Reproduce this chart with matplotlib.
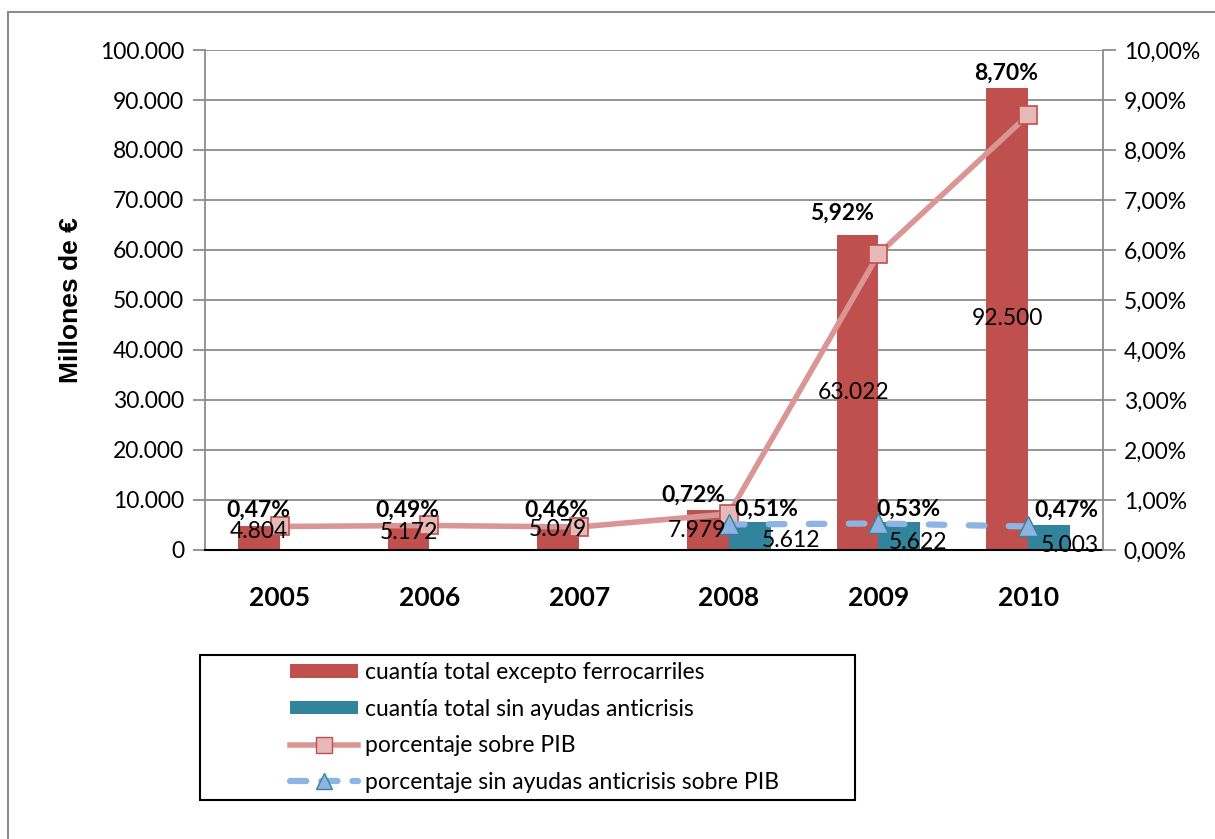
import matplotlib.pyplot as plt
import numpy as np
from matplotlib.patches import Rectangle
from matplotlib.lines import Line2D
from matplotlib.patches import Patch

plt.rcParams['font.family'] = ['Lato', 'DejaVu Sans']

# Datos
years = ['2005', '2006', '2007', '2008', '2009', '2010']
total_excepto = [4804, 5172, 5079, 7979, 63022, 92500]
total_sin_anticrisis = [0, 0, 0, 5612, 5622, 5003]
pct_pib = [0.47, 0.49, 0.46, 0.72, 5.92, 8.70]
pct_sin_anticrisis = [np.nan, np.nan, np.nan, 0.51, 0.53, 0.47]

c_red = '#C0504D'
c_teal = '#31849B'
c_line_red = '#DA9694'
c_line_blue = '#8DB4E2'

x = np.arange(len(years))
w = 0.28

fig = plt.figure(figsize=(12.15, 8.39), dpi=100)
ax = fig.add_axes([0.1687, 0.3445, 0.9078 - 0.1687, 0.9404 - 0.3445])

ax.set_axisbelow(True)
ax.yaxis.grid(True, color='#8c8c8c', linewidth=1.3)
b1 = ax.bar(x - w / 2, total_excepto, w, color=c_red, zorder=2)
b2 = ax.bar(x + w / 2, total_sin_anticrisis, w, color=c_teal, zorder=2)

ax.set_xlim(-0.5, len(years) - 0.5)
ax.set_ylim(0, 100000)
ax.set_yticks(np.arange(0, 100001, 10000))
ax.set_yticklabels([f'{v:,}'.replace(',', '.') for v in range(0, 100001, 10000)], fontsize=16.5)
ax.set_xticks(x)
ax.set_xticklabels(years, fontsize=19, fontweight='bold')
ax.tick_params(axis='x', length=0, pad=26)
ax.tick_params(axis='y', length=9, color='#8c8c8c', width=1.3, pad=6)
for s in ['top', 'right']:
    ax.spines[s].set_visible(False)
ax.spines['left'].set_color('#8c8c8c')
ax.spines['left'].set_linewidth(1.3)
ax.spines['bottom'].set_color('black')
ax.spines['bottom'].set_linewidth(1.5)
ax.set_ylabel('Millones de €', fontsize=19, fontweight='bold',
              family='Liberation Sans', labelpad=12)

ax2 = ax.twinx()
ax2.set_ylim(0, 10)
ax2.set_yticks(np.arange(0, 10.01, 1))
ax2.set_yticklabels([f'{v:.2f}%'.replace('.', ',') for v in range(0, 11)], fontsize=16.5)
ax2.tick_params(axis='y', length=9, color='#8c8c8c', width=1.3, pad=6)
for s in ['top', 'left', 'bottom']:
    ax2.spines[s].set_visible(False)
ax2.spines['right'].set_color('#8c8c8c')
ax2.spines['right'].set_linewidth(1.3)

blue_dash = (0, (2.5, 3.9))
ax2.plot(x, pct_pib, color=c_line_red, lw=4, marker='s', markersize=13,
         markerfacecolor='#E6B9B8', markeredgecolor=c_red, markeredgewidth=1.2, zorder=3)
ax2.plot(x, pct_sin_anticrisis, color=c_line_blue, lw=4.5, linestyle=blue_dash,
         dash_capstyle='round', marker='^', markersize=14,
         markerfacecolor=c_line_blue, markeredgecolor=c_teal, markeredgewidth=1, zorder=3)

# Etiquetas de valores (sobre el eje secundario para quedar encima de las líneas)
def fmt_num(v):
    return f'{v:,}'.replace(',', '.')

red_off = [(0, 6), (0, 5), (0, 8), (-11, 0), (-4, 0), (0, 0)]
for i, v in enumerate(total_excepto):
    ax2.annotate(fmt_num(v), xy=(x[i] - w / 2, v / 2), xycoords=ax.transData, xytext=red_off[i],
                 textcoords='offset pixels', ha='center', va='center', fontsize=16.5, zorder=5)

teal_off = {3: (41, -5), 4: (19, -7), 5: (21, -8)}
for i, v in enumerate(total_sin_anticrisis):
    if v > 0:
        ax2.annotate(fmt_num(v), xy=(x[i] + w / 2, v / 2), xycoords=ax.transData, xytext=teal_off[i],
                     textcoords='offset pixels', ha='center', va='center', fontsize=16.5, zorder=5)

pct_off = [(-21, 16), (-22, 15), (-23, 17), (-35, 19), (-36, 41), (-22, 42)]
for i, v in enumerate(pct_pib):
    ax2.annotate(f'{v:.2f}%'.replace('.', ','), xy=(x[i], v), xytext=pct_off[i],
                 textcoords='offset pixels', ha='center', va='center',
                 fontsize=16.5, fontweight='bold', zorder=5)

anti_off = {3: (38, 15), 4: (30, 14), 5: (38, 16)}
for i, v in enumerate(pct_sin_anticrisis):
    if not np.isnan(v):
        ax2.annotate(f'{v:.2f}%'.replace('.', ','), xy=(x[i], v), xytext=anti_off[i],
                     textcoords='offset pixels', ha='center', va='center',
                     fontsize=16.5, fontweight='bold', zorder=5)

# Leyenda
handles = [
    Patch(facecolor=c_red, edgecolor='none'),
    Patch(facecolor=c_teal, edgecolor='none'),
    Line2D([], [], color=c_line_red, lw=4, marker='s', markersize=12,
           markerfacecolor='#E6B9B8', markeredgecolor=c_red),
    Line2D([], [], color=c_line_blue, lw=4.5, linestyle=(0, (2.6, 2.4)), dash_capstyle='round',
           marker='^', markersize=11, markerfacecolor=c_line_blue, markeredgecolor=c_teal),
]
labels = ['cuantía total excepto ferrocarriles', 'cuantía total sin ayudas anticrisis',
          'porcentaje sobre PIB', 'porcentaje sin ayudas anticrisis sobre PIB']
leg = fig.legend(handles, labels, loc='upper left', bbox_to_anchor=(290 / 1215, 1 - 662 / 839),
                 fontsize=16.5, frameon=False, handlelength=2.97, handleheight=0.55,
                 handletextpad=0.3, borderpad=0, labelspacing=0.68, borderaxespad=0)

# Marco de la leyenda
fig.patches.append(Rectangle((200 / 1215, 1 - 800 / 839), 655 / 1215, 145 / 839,
                             transform=fig.transFigure, fill=False, edgecolor='black', lw=1.5))

# Marco exterior
fig.patches.append(Rectangle((8 / 1215, -0.1), 1.1, 1 - 12 / 839 + 0.1, transform=fig.transFigure,
                             fill=False, edgecolor='#8c8c8c', lw=1.5))

plt.savefig('out.png', dpi=100)
